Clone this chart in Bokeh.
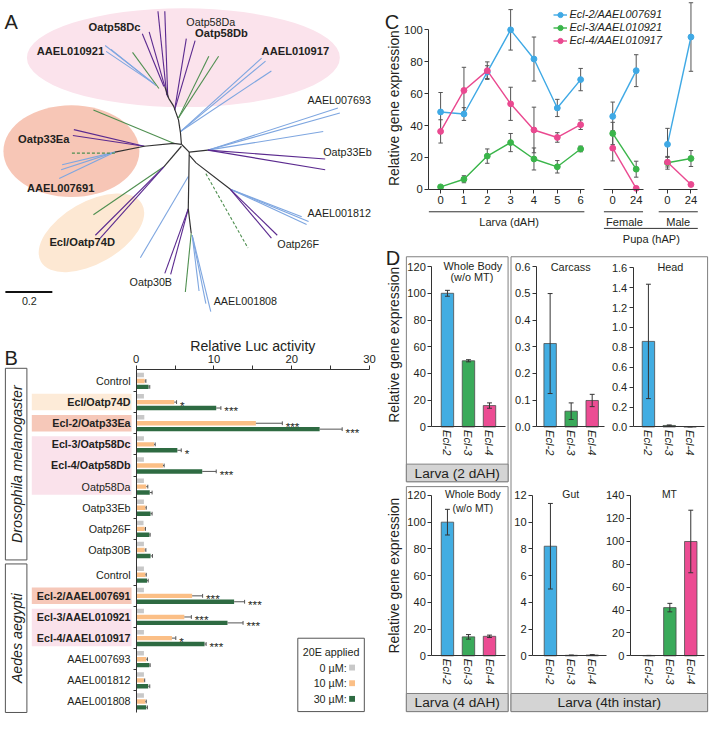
import math
from bokeh.plotting import figure
from bokeh.models import Range1d, LinearAxis, FixedTicker, PrintfTickFormatter, Legend, LegendItem
from bokeh.core.properties import value
from bokeh.embed import file_html
from bokeh.resources import INLINE

# ============================ DATA ============================
# ---- Panel A: tree branches (reference-pixel geometry of the drawn tree) ----
tree_black = [
    [(185, 147), (184, 135), (182, 122), (177, 108), (172, 100), (168, 88)],
    [(185, 147), (177, 146), (147, 149), (117, 155)],
    [(185, 147), (193, 155), (212, 153)],
    [(193, 158), (200, 166), (235, 193)],
    [(185, 149), (167, 170)],
    [(193, 155), (192, 213), (195, 238)],
]
tree_purple = [
    [(170, 97), (161, 11)], [(171, 99), (168, 11)],
    [(168, 88), (152, 32)], [(167, 88), (145, 34)],
    [(178, 112), (190, 39)], [(178, 112), (199, 41)],
    [(147, 149), (75, 132)], [(147, 149), (74, 138)],
    [(212, 153), (332, 162)], [(212, 153), (332, 173)],
    [(235, 193), (277, 243)], [(235, 193), (283, 240)],
    [(167, 170), (97, 240)], [(167, 170), (102, 243)],
    [(192, 213), (168, 279)], [(192, 213), (174, 280)],
]
tree_blue = [
    [(157, 85), (107, 46)], [(157, 85), (108, 52)], [(159, 87), (113, 50)],
    [(184, 134), (267, 59)], [(184, 134), (271, 62)], [(184, 134), (277, 72)],
    [(117, 155), (63, 168)], [(117, 155), (62, 173)], [(117, 155), (60, 182)],
    [(212, 153), (345, 110)], [(212, 153), (347, 115)], [(212, 153), (330, 134)],
    [(235, 193), (315, 226)], [(235, 193), (313, 229)], [(235, 193), (308, 221)],
    [(192, 180), (143, 263)],
    [(196, 240), (203, 297)], [(196, 240), (210, 310)], [(196, 240), (215, 318)],
]
tree_green = [
    [(162, 90), (135, 53)],
    [(182, 120), (213, 57)], [(182, 120), (223, 57)],
    [(177, 146), (95, 112)],
    [(167, 170), (95, 219)],
    [(195, 238), (189, 298)],
]
tree_green_dashed = [
    [(117, 156), (73, 156)],
    [(210, 177), (253, 253)],
]
tree_label_text = ["Oatp58Dc", "AAEL010921", "Oatp58Da", "Oatp58Db", "AAEL010917",
                   "AAEL007693", "Oatp33Eb", "AAEL001812", "Oatp26F", "Oatp30B",
                   "AAEL001808", "Oatp33Ea", "AAEL007691", "Ecl/Oatp74D"]
tree_label_bold = [True, True, False, True, True, False, False, False, False, False,
                   False, True, True, True]
tree_scale_label = "0.2"

# ---- Panel B: Relative Luc activity ----
b_dm_genes = ["Control", "Ecl/Oatp74D", "Ecl-2/Oatp33Ea", "Ecl-3/Oatp58Dc", "Ecl-4/Oatp58Db",
              "Oatp58Da", "Oatp33Eb", "Oatp26F", "Oatp30B"]
b_dm_bold = [False, True, True, True, True, False, False, False, False]
b_dm_hl = [None, "orange", "salmon", "pink", "pink", "pink", None, None, None]
b_dm_0 = [1.0, 1.0, 1.05, 1.0, 1.0, 1.0, 1.0, 0.95, 1.0]
b_dm_10 = [1.1, 4.9, 15.4, 2.3, 3.45, 1.3, 1.2, 1.1, 1.1]
b_dm_10_err = [0.15, 0.3, 3.4, 0.15, 0.15, 0.2, 0.1, 0.1, 0.15]
b_dm_30 = [1.6, 10.3, 23.6, 5.3, 8.5, 1.75, 1.85, 1.7, 1.85]
b_dm_30_err = [0.15, 0.6, 2.9, 0.5, 1.8, 0.3, 0.2, 0.1, 0.25]
b_dm_sig10 = ["", "*", "***", "", "", "", "", "", ""]
b_dm_sig30 = ["", "***", "***", "*", "***", "", "", "", ""]

b_aa_genes = ["Control", "Ecl-2/AAEL007691", "Ecl-3/AAEL010921", "Ecl-4/AAEL010917",
              "AAEL007693", "AAEL001812", "AAEL001808"]
b_aa_bold = [False, True, True, True, False, False, False]
b_aa_hl = [None, "salmon", "pink", "pink", None, None, None]
b_aa_0 = [1.0, 1.0, 1.0, 1.0, 1.0, 1.0, 1.0]
b_aa_10 = [1.2, 7.2, 6.2, 4.6, 1.3, 1.0, 1.2]
b_aa_10_err = [0.1, 1.35, 0.9, 0.5, 0.15, 0.1, 0.1]
b_aa_30 = [1.4, 12.6, 11.75, 8.8, 1.7, 1.55, 1.3]
b_aa_30_err = [0.15, 1.35, 2.0, 0.2, 0.1, 0.2, 0.15]
b_aa_sig10 = ["", "***", "***", "*", "", "", ""]
b_aa_sig30 = ["", "***", "***", "***", "", "", ""]

b_species = ["Drosophila melanogaster", "Aedes aegypti"]
b_xticks = [0, 10, 20, 30]
b_xminor = [5, 15, 25]
b_legend_title = "20E applied"
b_conc_labels = ["0 \u00b5M:", "10 \u00b5M:", "30 \u00b5M:"]

# ---- Panel C: time course ----
c_larva_dah = [0, 1, 2, 3, 4, 5, 6]
c_pupa_hap = [0, 24]
c_series = ["Ecl-2/AAEL007691", "Ecl-3/AAEL010921", "Ecl-4/AAEL010917"]
c_larva = [
    [48.5, 47.2, 73.5, 100.0, 81.7, 51.0, 68.8],
    [1.5, 6.3, 20.8, 29.3, 19.0, 14.1, 25.3],
    [36.3, 62.0, 74.4, 53.6, 37.2, 32.5, 40.5],
]
c_larva_err = [
    [12.2, 4.0, 4.0, 12.7, 13.8, 5.4, 7.0],
    [0.8, 2.2, 4.5, 5.7, 6.9, 3.9, 1.8],
    [7.3, 14.5, 5.5, 10.4, 14.3, 3.0, 3.0],
]
c_female = [[45.7, 74.4], [35.0, 12.6], [25.8, 0.6]]
c_female_err = [[9.0, 10.0], [7.0, 5.0], [8.0, 0.3]]
c_male = [[28.2, 95.5], [16.6, 19.3], [17.0, 3.0]]
c_male_err = [[10.0, 21.5], [4.0, 5.0], [3.0, 0.5]]
c_yticks = [0, 20, 40, 60, 80, 100]
c_group_labels = ["Larva (dAH)", "Female", "Male", "Pupa (hAP)"]

# ---- Panel D: tissue expression ----
d_genes = ["Ecl-2", "Ecl-3", "Ecl-4"]
d_wb2 = [100.0, 49.5, 16.0]
d_wb2_err = [2.2, 0.8, 2.0]
d_carcass = [0.312, 0.059, 0.099]
d_carcass_err = [0.187, 0.031, 0.023]
d_head = [0.86, 0.015, 0.002]
d_head_err = [0.575, 0.005, 0.001]
d_wb4 = [100.0, 14.2, 14.6]
d_wb4_err = [9.6, 1.7, 0.9]
d_gut = [8.2, 0.04, 0.06]
d_gut_err = [3.2, 0.02, 0.03]
d_mt = [0.3, 42.1, 99.8]
d_mt_err = [0.1, 3.7, 27.3]
d_ticks_wb = [0, 20, 40, 60, 80, 100, 120]
d_ticks_carcass = [0.0, 0.1, 0.2, 0.3, 0.4, 0.5, 0.6]
d_ticks_head = [0.0, 0.2, 0.4, 0.6, 0.8, 1.0, 1.2, 1.4, 1.6]
d_ticks_gut = [0, 2, 4, 6, 8, 10, 12]
d_ticks_mt = [0, 20, 40, 60, 80, 100, 120, 140]
d_stage_labels = ["Larva (2 dAH)", "Larva (4 dAH)", "Larva (4th instar)"]

# ============================ SETUP ============================
W, H = 711, 715
RW, RH = 727, 731
SC = W / RW
FONT = "Liberation Sans"
INK = "#231f20"
AX = "#333333"


def FS(px):
    return f"{px * SC:.2f}px"


def xrange_from(v0, p0, v1, p1):
    k = (v1 - v0) / (p1 - p0)
    return Range1d(start=v0 - p0 * k, end=v0 + (RW - p0) * k)


def yrange_from(v0, p0, v1, p1):
    k = (v1 - v0) / (p1 - p0)
    return Range1d(start=v0 + (RH - p0) * k, end=v0 - p0 * k)


def to_unit(px, v0, p0, v1, p1):
    return v0 + (px - p0) * (v1 - v0) / (p1 - p0)


p = figure(width=W, height=H, x_range=Range1d(0, RW), y_range=Range1d(RH, 0),
           x_axis_type=None, y_axis_type=None, title=None, toolbar_location=None,
           output_backend="svg", min_border=0, outline_line_color=None,
           background_fill_color="white", border_fill_color="white")

xranges = {}
yranges = {}


def texts(xs, ys, labels, size, align="left", baseline="middle", style="normal",
          color=INK, angle=0.0, xr="default", yr="default", xo=0.0, yo=0.0):
    p.text(x=xs, y=ys, text=labels, text_font=value(FONT), text_font_size=value(FS(size)),
           text_font_style=value(style), text_align=align, text_baseline=baseline,
           text_color=color, angle=angle, x_offset=xo, y_offset=yo,
           x_range_name=xr, y_range_name=yr)


def style_axis(ax, size=11, tick_out=4, standoff=2):
    ax.axis_line_color = AX
    ax.axis_line_width = 1
    ax.major_tick_line_color = AX
    ax.major_tick_out = tick_out
    ax.major_tick_in = 0
    ax.minor_tick_line_color = None
    ax.major_label_text_font = FONT
    ax.major_label_text_font_size = FS(size)
    ax.major_label_text_color = INK
    ax.major_label_standoff = standoff


# ============================ PANEL A ============================
p.ellipse(x=[187], y=[58.5], width=[320], height=[101], fill_color="#fbe3ec", line_color=None)
p.ellipse(x=[72.5], y=[154], width=[139], height=[94], fill_color="#f7c6b6", line_color=None)
p.ellipse(x=[93], y=[237.5], width=[119], height=[63], angle=[0.52],
          fill_color="#fde8d3", line_color=None)


def add_lines(polys, color, dash="solid", width=1.1):
    p.multi_line(xs=[[q[0] for q in poly] for poly in polys],
                 ys=[[q[1] for q in poly] for poly in polys],
                 line_color=color, line_width=width, line_dash=dash)


add_lines(tree_blue, "#7ea6e0")
add_lines(tree_green, "#4f8f50")
add_lines(tree_green_dashed, "#4f8f50", dash="3 2")
add_lines(tree_purple, "#5b2a8f")
add_lines(tree_black, "#333333", width=1.2)

TREE_LABEL_POS = [(90, 27), (37, 52), (190, 22), (199, 33), (267, 52), (314, 102),
                  (330, 155), (314, 217), (283, 249), (132, 288), (218, 307),
                  (18, 142), (27, 192), (50, 247)]
for bold in (True, False):
    idx = [i for i, b in enumerate(tree_label_bold) if b == bold]
    texts([TREE_LABEL_POS[i][0] for i in idx], [TREE_LABEL_POS[i][1] for i in idx],
          [tree_label_text[i] for i in idx], 11.4 if bold else 11,
          style="bold" if bold else "normal")

p.segment(x0=[5], y0=[298], x1=[53], y1=[298], line_color="#111111", line_width=2)
texts([29.5], [307], [tree_scale_label], 11, align="center")
texts([4], [22], ["A"], 20.5, baseline="alphabetic")

# ============================ PANEL B ============================
B_ROW0_PX, B_ROW_PX, B_GAP = 389.0, 21.6, 0.17
xranges["Bx"] = xrange_from(0, 138.7, 10, 218.2)
yranges["By"] = yrange_from(0, B_ROW0_PX, 1, B_ROW0_PX + B_ROW_PX)

dm_slots = [float(i) for i in range(len(b_dm_genes))]
aa_slots = [len(b_dm_genes) + B_GAP + i for i in range(len(b_aa_genes))]
slots = dm_slots + aa_slots
genes = b_dm_genes + b_aa_genes
bolds = b_dm_bold + b_aa_bold
hls = b_dm_hl + b_aa_hl
v0 = b_dm_0 + b_aa_0
v10 = b_dm_10 + b_aa_10
e10 = b_dm_10_err + b_aa_10_err
v30 = b_dm_30 + b_aa_30
e30 = b_dm_30_err + b_aa_30_err
s10 = b_dm_sig10 + b_aa_sig10
s30 = b_dm_sig30 + b_aa_sig30

HL = {"orange": "#fdebd8", "salmon": "#f6c8b9", "pink": "#fae2eb"}


def runs(sl, hl):
    out, i = [], 0
    while i < len(sl):
        c = hl[i]
        if c is None:
            i += 1
            continue
        j = i
        while j + 1 < len(sl) and hl[j + 1] == c and sl[j + 1] - sl[j] < 1.05:
            j += 1
        out.append((sl[i], sl[j], c))
        i = j + 1
    return out


for a, b, c in runs(dm_slots, b_dm_hl) + runs(aa_slots, b_aa_hl):
    p.quad(left=[32], right=[134], top=[a - 0.39], bottom=[b + 0.39], fill_color=HL[c],
           line_color=None, y_range_name="By")

for bold in (True, False):
    idx = [i for i, bb in enumerate(bolds) if bb == bold]
    texts([133] * len(idx), [slots[i] for i in idx], [genes[i] for i in idx], 11,
          align="right", style="bold" if bold else "normal", yr="By")

B_OFF, B_H = 0.28, 0.21
B_GRAY, B_ORANGE, B_GREEN = "#c8c8c8", "#fbbf86", "#2e6b42"
p.hbar(y=[s - B_OFF for s in slots], left=0, right=v0, height=B_H, fill_color=B_GRAY,
       line_color=None, x_range_name="Bx", y_range_name="By")
p.hbar(y=slots, left=0, right=v10, height=B_H, fill_color=B_ORANGE,
       line_color=None, x_range_name="Bx", y_range_name="By")
p.hbar(y=[s + B_OFF for s in slots], left=0, right=v30, height=B_H, fill_color=B_GREEN,
       line_color=None, x_range_name="Bx", y_range_name="By")

for off, vals, errs, sig in ((0.0, v10, e10, s10), (B_OFF, v30, e30, s30)):
    ys = [s + off for s in slots]
    ends = [v + e for v, e in zip(vals, errs)]
    p.segment(x0=vals, y0=ys, x1=ends, y1=ys, line_color="#555555", line_width=1,
              x_range_name="Bx", y_range_name="By")
    p.segment(x0=ends, y0=[y - 0.09 for y in ys], x1=ends, y1=[y + 0.09 for y in ys],
              line_color="#555555", line_width=1, x_range_name="Bx", y_range_name="By")
    texts(ends, ys, sig, 12, xo=3.5 * SC, yo=3 * SC, xr="Bx", yr="By")

# axes of B
top_loc = to_unit(377, 0, B_ROW0_PX, 1, B_ROW0_PX + B_ROW_PX)
bot_loc = to_unit(728, 0, B_ROW0_PX, 1, B_ROW0_PX + B_ROW_PX)
bax = LinearAxis(x_range_name="Bx", y_range_name="By", fixed_location=top_loc, bounds=(0, 30),
                 ticker=FixedTicker(ticks=b_xticks, minor_ticks=b_xminor))
style_axis(bax, size=11.5, tick_out=4, standoff=2)
bax.minor_tick_line_color = AX
bax.minor_tick_out = 4
bax.minor_tick_in = 0
p.add_layout(bax, "above")

row_ticks = [s - 0.5 for s in dm_slots[1:]] + [s - 0.5 for s in aa_slots[1:]]
byax = LinearAxis(x_range_name="Bx", y_range_name="By", fixed_location=0,
                  bounds=(top_loc, bot_loc), ticker=FixedTicker(ticks=row_ticks))
style_axis(byax, size=1, tick_out=3)
byax.major_label_text_color = None
p.add_layout(byax, "left")

texts([258], [353], ["Relative Luc activity"], 14.5, align="center")
texts([4], [366], ["B"], 20.5, baseline="alphabetic")

# species boxes
sp_top = [dm_slots[0] - 0.6, aa_slots[0] - 0.51]
sp_bot = [dm_slots[-1] + 0.47, aa_slots[-1] + 0.52]
p.quad(left=[5, 5], right=[27, 27], top=sp_top, bottom=sp_bot, fill_color=None,
       line_color="#555555", line_width=1, y_range_name="By")
texts([16.5, 16.5], [(a + b) / 2 for a, b in zip(sp_top, sp_bot)], b_species, 14.5,
      align="center", style="italic", angle=math.pi / 2, yr="By")

# legend box of B
p.quad(left=[304], right=[372], top=[652], bottom=[727], fill_color="white",
       line_color="#555555", line_width=1)
texts([338], [666], [b_legend_title], 11, align="center")
texts([354] * 3, [682, 698, 714], b_conc_labels, 11, align="right")
p.scatter(x=[359.5] * 3, y=[682, 698, 714], marker="square", size=6 * SC,
          fill_color=[B_GRAY, B_ORANGE, B_GREEN], line_color=None)

# ============================ PANEL C ============================
C_LARVA_SPAN = (438, 597)
C_FEM_SPAN = (617, 657)
C_MALE_SPAN = (673, 713)
cx_map = (0, 450, 6, 593.2)
cf_map = (0, 626, 24, 650)
cm_map = (0, 682, 24, 706)
xranges["Cx"] = xrange_from(*cx_map)
xranges["Cf"] = xrange_from(*cf_map)
xranges["Cm"] = xrange_from(*cm_map)
yranges["Cy"] = yrange_from(0, 193, 100, 30)

C_COLORS = ["#3fa9e5", "#3ab54a", "#ea4990"]
ERR = "#555555"
line_rs = []
groups = [("Cx", c_larva_dah, c_larva, c_larva_err),
          ("Cf", c_pupa_hap, c_female, c_female_err),
          ("Cm", c_pupa_hap, c_male, c_male_err)]
for xr, xs, vals_all, errs_all in groups:
    for vals, errs in zip(vals_all, errs_all):
        lo = [v - e for v, e in zip(vals, errs)]
        hi = [v + e for v, e in zip(vals, errs)]
        p.segment(x0=xs, y0=lo, x1=xs, y1=hi, line_color=ERR, line_width=1,
                  x_range_name=xr, y_range_name="Cy")
        p.scatter(x=xs + xs, y=lo + hi, marker="dash", size=4.5 * SC, line_color=ERR,
                  line_width=1, x_range_name=xr, y_range_name="Cy")
for k, color in enumerate(C_COLORS):
    rs = []
    for xr, xs, vals_all, _ in groups:
        lr = p.line(x=xs, y=vals_all[k], line_color=color, line_width=1.4,
                    x_range_name=xr, y_range_name="Cy")
        sr = p.scatter(x=xs, y=vals_all[k], marker="circle", size=6 * SC, fill_color=color,
                       line_color=color, x_range_name=xr, y_range_name="Cy")
        rs.append((lr, sr))
    line_rs.append(rs[0])

cyax = LinearAxis(x_range_name="Cx", y_range_name="Cy",
                  fixed_location=to_unit(C_LARVA_SPAN[0], *cx_map), bounds=(0, 100),
                  ticker=FixedTicker(ticks=c_yticks))
style_axis(cyax, size=11.5)
p.add_layout(cyax, "left")
for xr, mp, span, ticks in (("Cx", cx_map, C_LARVA_SPAN, c_larva_dah),
                            ("Cf", cf_map, C_FEM_SPAN, c_pupa_hap),
                            ("Cm", cm_map, C_MALE_SPAN, c_pupa_hap)):
    ax = LinearAxis(x_range_name=xr, y_range_name="Cy", fixed_location=0,
                    bounds=(to_unit(span[0], *mp), to_unit(span[1], *mp)),
                    ticker=FixedTicker(ticks=ticks))
    style_axis(ax, size=11.5, standoff=3)
    p.add_layout(ax, "below")

p.segment(x0=[C_LARVA_SPAN[0], C_FEM_SPAN[0], C_MALE_SPAN[0], C_FEM_SPAN[0]],
          x1=[C_LARVA_SPAN[1], C_FEM_SPAN[1], C_MALE_SPAN[1], C_MALE_SPAN[1]],
          y0=[216, 216, 216, 233], y1=[216, 216, 216, 233], line_color=AX, line_width=1)
texts([520, 638, 693, 665.5], [226, 226, 226, 244], c_group_labels, 11.3, align="center")
texts([402], [110], ["Relative gene expression"], 14.2, align="center", angle=math.pi / 2)
texts([393], [22], ["C"], 20.5, baseline="alphabetic")

legend = Legend(items=[LegendItem(label=c_series[k], renderers=list(line_rs[k]))
                       for k in range(3)],
                location=(565 * SC, H - 47.8 * SC), orientation="vertical",
                label_text_font=FONT, label_text_font_size=FS(11.2),
                label_text_font_style="italic", label_text_color=INK,
                glyph_width=int(15 * SC), glyph_height=int(14 * SC),
                label_height=int(14 * SC), label_standoff=3, spacing=0, padding=0,
                margin=0, background_fill_alpha=0, border_line_alpha=0)
p.add_layout(legend)

# ============================ PANEL D ============================
D_COLORS = ["#42ade2", "#3aaa5a", "#ec4c93"]
# boxes and stage strips
p.quad(left=[415, 415, 522], right=[519, 519, 723], top=[262, 497, 262],
       bottom=[492, 727, 727], fill_color=None, line_color="#808080", line_width=1)
p.quad(left=[415, 415, 522], right=[519, 519, 723], top=[474, 708.5, 708.5],
       bottom=[492, 727, 727], fill_color="#d4d4d4", line_color="#808080", line_width=1)
texts([467, 467, 622.5], [483.5, 718, 718], d_stage_labels, 14, align="center")

d_specs = [
    # key, values, errors, ticks, fmt, bar1_px, step_px, yaxis_px, xend_px, y0_px, ref_val, ref_px
    ("Dwb2", d_wb2, d_wb2_err, d_ticks_wb, None, 457, 21.5, 441, 516, 436, 120, 272),
    ("Dcar", d_carcass, d_carcass_err, d_ticks_carcass, "%.1f", 562, 21.5, 548, 618, 436, 0.6, 272),
    ("Dhead", d_head, d_head_err, d_ticks_head, "%.1f", 662.5, 21.3, 647, 720, 436, 1.6, 273.3),
    ("Dwb4", d_wb4, d_wb4_err, d_ticks_wb, None, 457, 21.5, 441, 516, 670, 120, 506),
    ("Dgut", d_gut, d_gut_err, d_ticks_gut, None, 562.3, 21.4, 544, 620, 670, 12, 506),
    ("Dmt", d_mt, d_mt_err, d_ticks_mt, None, 663, 21.4, 644, 720, 670, 140, 506),
]
xpos = [1, 2, 3]
for key, vals, errs, ticks, fmt, bar1, step, yax_px, xend_px, y0_px, rv, rp in d_specs:
    xmap = (1, bar1, 2, bar1 + step)
    xranges[key] = xrange_from(*xmap)
    yranges[key] = yrange_from(0, y0_px, rv, rp)
    p.vbar(x=xpos, width=12.7 / step, bottom=0, top=vals, fill_color=D_COLORS,
           line_color="#4d4d4d", line_width=0.8, x_range_name=key, y_range_name=key)
    lo = [v - e for v, e in zip(vals, errs)]
    hi = [v + e for v, e in zip(vals, errs)]
    p.segment(x0=xpos, y0=lo, x1=xpos, y1=hi, line_color="#333333", line_width=1,
              x_range_name=key, y_range_name=key)
    p.scatter(x=xpos + xpos, y=lo + hi, marker="dash", size=5 * SC, line_color="#333333",
              line_width=1, x_range_name=key, y_range_name=key)
    yloc = to_unit(yax_px, *xmap)
    yax = LinearAxis(x_range_name=key, y_range_name=key, fixed_location=yloc,
                     bounds=(0, ticks[-1]), ticker=FixedTicker(ticks=ticks))
    if fmt:
        yax.formatter = PrintfTickFormatter(format=fmt)
    style_axis(yax, size=11.3)
    p.add_layout(yax, "left")
    xax = LinearAxis(x_range_name=key, y_range_name=key, fixed_location=0,
                     bounds=(yloc, to_unit(xend_px, *xmap)), ticker=FixedTicker(ticks=xpos),
                     major_label_overrides={i + 1: g for i, g in enumerate(d_genes)})
    style_axis(xax, size=11.5, tick_out=0, standoff=3)
    xax.major_label_orientation = "vertical"
    xax.major_label_text_font_style = "italic"
    p.add_layout(xax, "below")

texts([483, 482], [271, 283], ["Whole Body", "(w/o MT)"], 11.1, align="center")
texts([583, 685], [272, 272], ["Carcass", "Head"], 11.1, align="center")
texts([483, 483], [505, 519], ["Whole Body", "(w/o MT)"], 10.6, align="center")
texts([583, 684], [505, 505], ["Gut", "MT"], 10.6, align="center")
texts([402, 402], [352, 588], ["Relative gene expression"] * 2, 14.2, align="center",
      angle=math.pi / 2)
texts([394], [263], ["D"], 20.5, baseline="alphabetic")

p.extra_x_ranges = xranges
p.extra_y_ranges = yranges

open("out.html", "w").write(file_html(p, INLINE))
